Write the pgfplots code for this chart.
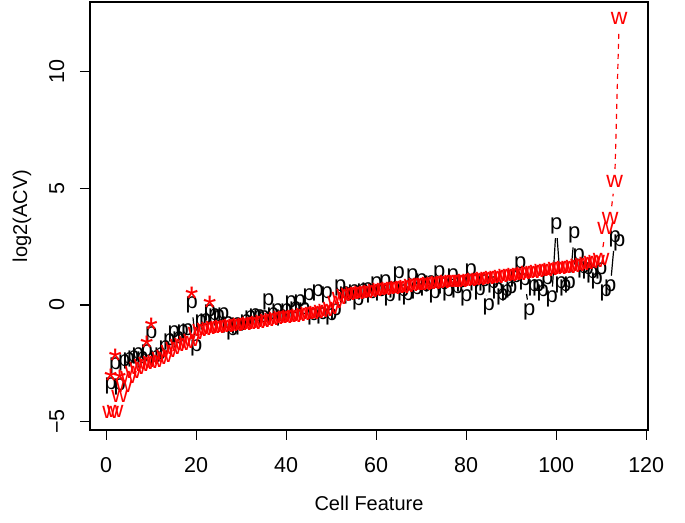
\documentclass[border=0pt]{standalone}
\usepackage{pgfplots}
\usepackage{pgfplotstable}
\pgfplotsset{compat=1.18}
\usepackage{fontspec}
\setmainfont{Liberation Sans}

\pgfplotstableread{
x y
1 -4.6
2 -4.55
3 -3.9
4 -3.5
5 -3.1
6 -2.9
7 -2.7
8 -2.6
9 -2.5
10 -2.45
11 -2.4
12 -2.3
13 -2.2
14 -2.0
15 -1.85
16 -1.75
17 -1.7
18 -1.6
19 -1.5
20 -1.2
21 -1.1
22 -1.05
23 -1.0
24 -0.98
25 -0.95
26 -0.93
27 -0.9
28 -0.88
29 -0.86
30 -0.84
31 -0.82
32 -0.8
33 -0.77
34 -0.74
35 -0.7
36 -0.66
37 -0.62
38 -0.58
39 -0.55
40 -0.52
41 -0.5
42 -0.47
43 -0.44
44 -0.41
45 -0.38
46 -0.35
47 -0.32
48 -0.28
49 -0.22
50 -0.15
51 0.1
52 0.3
53 0.4
54 0.45
55 0.48
56 0.5
57 0.52
58 0.55
59 0.58
60 0.62
61 0.65
62 0.68
63 0.7
64 0.72
65 0.74
66 0.77
67 0.8
68 0.83
69 0.86
70 0.88
71 0.9
72 0.92
73 0.94
74 0.96
75 0.98
76 0.99
77 1.0
78 1.01
79 1.02
80 1.04
81 1.06
82 1.08
83 1.1
84 1.12
85 1.14
86 1.17
87 1.2
88 1.22
89 1.25
90 1.28
91 1.3
92 1.33
93 1.36
94 1.38
95 1.4
96 1.43
97 1.46
98 1.49
99 1.52
100 1.55
101 1.58
102 1.6
103 1.63
104 1.66
105 1.7
106 1.73
107 1.77
108 1.81
109 1.86
110 1.95
111 3.3
112 3.7
113 5.3
114 12.3
}\wdata

\pgfplotstableread{
x y
1 -3.45
2 -2.6
3 -3.5
4 -2.5
5 -2.4
6 -2.3
7 -2.2
8 -2.35
9 -2.05
10 -1.3
11 -2.3
12 -2.2
13 -1.9
14 -1.6
15 -1.25
16 -1.5
17 -1.2
18 -1.15
19 0.0
20 -1.85
21 -0.75
22 -0.72
23 -0.33
24 -0.5
25 -0.55
26 -0.45
27 -0.85
28 -1.15
29 -0.9
30 -0.95
31 -0.75
32 -0.6
33 -0.5
34 -0.55
35 -0.6
36 0.13
37 -0.45
38 -0.3
39 -0.55
40 -0.3
41 0.05
42 -0.2
43 0.1
44 -0.25
45 0.35
46 -0.5
47 0.5
48 -0.45
49 0.45
50 -0.5
51 -0.3
52 0.75
53 0.45
54 0.4
55 0.5
56 0.15
57 0.55
58 0.6
59 0.45
60 0.85
61 0.5
62 0.95
63 0.3
64 0.65
65 1.3
66 0.5
67 0.35
68 1.2
69 0.6
70 1.0
71 0.75
72 0.9
73 0.45
74 1.35
75 0.8
76 0.5
77 1.2
78 0.65
79 0.9
80 0.3
81 1.4
82 0.95
83 0.55
84 0.95
85 -0.1
86 0.85
87 0.6
88 0.35
89 0.5
90 0.65
91 1.1
92 1.7
93 1.0
94 -0.3
95 0.75
96 0.75
97 0.5
98 1.05
99 0.25
100 3.4
101 0.85
102 0.75
103 0.85
104 3.0
105 2.05
106 1.5
107 1.45
108 1.3
109 1.05
110 1.45
111 0.5
112 0.72
113 2.85
114 2.65
}\pdata

\pgfplotstableread{
x y
1 -3.25
2 -2.4
3 -3.3
9 -1.85
10 -1.05
19 0.25
23 -0.1
}\sdata

\begin{document}
\begin{tikzpicture}
\begin{axis}[
  scale only axis,
  width=279pt, height=214pt,
  xmin=-3.6, xmax=120.4, ymin=-5.36, ymax=12.99,
  axis line style={line width=0.6pt},
  xtick={0,20,40,60,80,100,120},
  ytick={-5,0,5,10},
  yticklabels={−5,0,5,10},
  tick align=outside, xtick pos=bottom, ytick pos=left,
  major tick length=5pt,
  every tick/.style={black, line width=0.6pt},
  /pgf/number format/assume math mode=true,
  tick label style={font=\fontsize{10.75}{13}\selectfont, inner sep=0pt},
  xticklabel style={anchor=north},
  yticklabel style={rotate=90, anchor=south},
  xticklabel shift=8.75pt, yticklabel shift=7.65pt,
  label style={font=\fontsize{10.75}{13}\selectfont},
  xlabel={Cell Feature}, ylabel={log2(ACV)},
  every axis x label/.style={at={(axis description cs:0.5,-0.1706)}, anchor=center},
  every axis y label/.style={at={(axis description cs:-0.1219,0.5)}, anchor=center, rotate=90},
]
% black p series
\addplot[only marks, black, mark=text, text mark={p}, text mark as node=true,
  text mark style={font=\fontsize{11}{12}\selectfont, text=black, inner sep=0pt}] table {\pdata};
% visible black connecting segments
\addplot[black, line width=0.6pt, shorten <=6.25pt, shorten >=6.25pt] coordinates {(19,0.0) (20,-1.85)};
\addplot[black, line width=0.6pt, shorten <=6.25pt, shorten >=6.25pt] coordinates {(84,0.95) (85,-0.1)};
\addplot[black, line width=0.6pt, shorten <=6.25pt, shorten >=6.25pt] coordinates {(93,1.0) (94,-0.3)};
\addplot[black, line width=0.6pt, shorten <=6.25pt, shorten >=6.25pt] coordinates {(99,0.25) (100,3.4)};
\addplot[black, line width=0.6pt, shorten <=6.25pt, shorten >=6.25pt] coordinates {(100,3.4) (101,0.85)};
\addplot[black, line width=0.6pt, shorten <=6.25pt, shorten >=6.25pt] coordinates {(103,0.85) (104,3.0)};
\addplot[black, line width=0.6pt, shorten <=6.25pt, shorten >=6.25pt] coordinates {(112,0.72) (113,2.85)};
% red w series
\addplot[only marks, red, mark=text, text mark={w}, text mark as node=true,
  text mark style={font=\fontsize{11.5}{12}\selectfont, text=red, inner sep=0pt}] table {\wdata};
\addplot[red, line width=0.6pt, dash pattern=on 2.5pt off 2.5pt, shorten <=6.25pt, shorten >=6.25pt] coordinates {(110,1.95) (111,3.3)};
\addplot[red, line width=0.6pt, dash pattern=on 2.5pt off 2.5pt, shorten <=6.25pt, shorten >=6.25pt] coordinates {(112,3.7) (113,5.3)};
\addplot[red, line width=0.6pt, dash pattern=on 2.5pt off 2.5pt, shorten <=6.25pt, shorten >=6.25pt] coordinates {(113,5.3) (114,12.3)};
% red stars
\addplot[only marks, red, mark=text, text mark={*}, text mark as node=true,
  text mark style={font=\fontsize{17}{19}\selectfont, text=red, inner sep=0pt}] table {\sdata};
\coordinate (bbsw) at (rel axis cs:0,0);
\coordinate (bbne) at (rel axis cs:1,1);
\end{axis}
\pgfresetboundingbox
\path[use as bounding box] ([shift={(-45pt,-46.5pt)}]bbsw) rectangle ([shift={(18.5pt,1pt)}]bbne);
\end{tikzpicture}
\end{document}
